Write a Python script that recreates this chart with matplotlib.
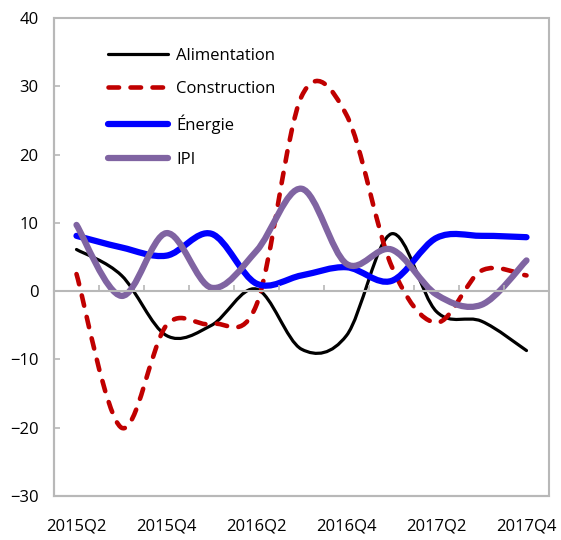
import numpy as np
import matplotlib
matplotlib.use("Agg")
import matplotlib.pyplot as plt
from matplotlib.path import Path
from matplotlib.patches import PathPatch
from matplotlib.lines import Line2D

quarters = ["2015Q2", "2015Q3", "2015Q4", "2016Q1", "2016Q2", "2016Q3",
            "2016Q4", "2017Q1", "2017Q2", "2017Q3", "2017Q4"]
alimentation = [6.1, 2.3, -6.5, -5.0, 0.3, -8.5, -6.5, 8.4, -3.0, -4.4, -8.7]
construction = [2.5, -20.0, -5.0, -4.8, -2.0, 28.5, 25.8, 3.7, -4.6, 3.0, 2.3]
energie = [8.1, 6.4, 5.2, 8.4, 1.1, 2.3, 3.5, 1.5, 7.8, 8.1, 7.9]
ipi = [9.7, -0.7, 8.5, 0.5, 5.9, 15.0, 4.0, 6.1, -0.5, -2.0, 4.5]

series_names = ["Alimentation", "Construction", "Énergie", "IPI"]
series_values = [alimentation, construction, energie, ipi]
colors = ["#000000", "#C00000", "#0000FF", "#8064A2"]
widths = [2.3, 3.3, 4.5, 4.5]
styles = ["-", (0, (2.3, 2.5)), "-", "-"]

GRID = "#B8B8B8"

plt.rcParams["font.family"] = ["Open Sans", "DejaVu Sans"]
plt.rcParams["font.size"] = 12


def smooth_path(y):
    # excel-like smoothed line: bezier with control points at 1/6 of neighbour span
    x = np.arange(len(y), dtype=float)
    pts = np.column_stack([x, np.asarray(y, dtype=float)])
    n = len(pts)
    verts = [pts[0]]
    codes = [Path.MOVETO]
    for i in range(n - 1):
        p0 = pts[max(i - 1, 0)]
        p1 = pts[i]
        p2 = pts[i + 1]
        p3 = pts[min(i + 2, n - 1)]
        verts += [p1 + (p2 - p0) / 6, p2 - (p3 - p1) / 6, p2]
        codes += [Path.CURVE4] * 3
    return Path(verts, codes)


fig = plt.figure(figsize=(5.61, 5.40), dpi=100)
ax = fig.add_axes([54 / 561, 44 / 540, 495 / 561, 478 / 540])

handles = []
for name, vals, c, lw, ls in zip(series_names, series_values, colors, widths, styles):
    patch = PathPatch(smooth_path(vals), facecolor="none", edgecolor=c,
                      linewidth=lw, linestyle=ls, capstyle="round", joinstyle="round")
    ax.add_patch(patch)
    handles.append(Line2D([], [], color=c, lw=lw, ls=ls, dash_capstyle="round",
                          solid_capstyle="round"))

ax.set_xlim(-0.5, len(quarters) - 0.5)
ax.set_ylim(-30, 40)
ax.set_yticks(np.arange(-30, 41, 10))

# frame
ax.patch.set_edgecolor(GRID)
ax.patch.set_linewidth(1.5)
for s in ["top", "right"]:
    ax.spines[s].set_visible(False)
ax.spines["left"].set_color(GRID)
ax.spines["left"].set_linewidth(1.5)

# category axis crossing at zero
ax.spines["bottom"].set_position(("data", 0))
ax.spines["bottom"].set_color(GRID)
ax.spines["bottom"].set_linewidth(1.5)
ax.set_xticks(np.arange(-0.5, len(quarters), 1))
ax.tick_params(axis="x", direction="in", length=4.5, width=1.2, color=GRID,
               labelbottom=False)
ax.tick_params(axis="y", direction="in", length=4.3, width=1.2, color=GRID,
               pad=11, labelsize=12)

sec = ax.secondary_xaxis("bottom")
sec.set_xticks(np.arange(0, len(quarters), 2), quarters[::2])
sec.tick_params(length=0, pad=16, labelsize=12)
sec.spines["bottom"].set_color(GRID)
sec.spines["bottom"].set_linewidth(1.5)

ax.legend(handles, series_names, loc="upper left", bbox_to_anchor=(0.109, 0.938),
          frameon=False, handlelength=3.6, handletextpad=0.5, labelspacing=1.05,
          borderpad=0, borderaxespad=0, fontsize=12)

fig.savefig("out.png", dpi=100)
